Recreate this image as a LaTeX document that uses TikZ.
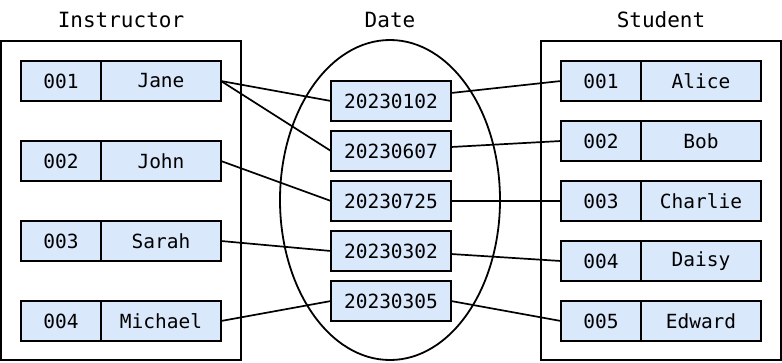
\documentclass[tikz,border=0pt]{standalone}
\usepackage{fontspec}
\setmonofont{DejaVu Sans Mono}
\usetikzlibrary{positioning}
\definecolor{cellblue}{HTML}{DAE8FC}

\begin{document}
\begin{tikzpicture}[x=1pt, y=-1pt,
        cell/.style={draw, fill=cellblue, line width=2pt, minimum height=40pt, inner sep=0pt, outer sep=0pt,
                     font=\ttfamily\fontsize{19.5}{22}\selectfont},
        idcell/.style={cell, minimum width=80pt},
        namecell/.style={cell, minimum width=120pt},
        title/.style={font=\ttfamily\fontsize{21}{24}\selectfont},
        link/.style={line width=1.7pt}]
                \useasboundingbox (0, 0) rectangle (782, 362);

                % titles
                \node[title] (tinstr) at (121, 20) {Instructor};
                \node[title] (tdate) at (390, 20) {Date};
                \node[title] (tstud) at (661, 20) {Student};

                % frames
                \draw[line width=2.2pt] (1, 41) rectangle (241, 360);
                \draw[line width=2.2pt] (541, 41) rectangle (781, 360);
                \draw[line width=1.8pt] (390, 200) ellipse [x radius=110, y radius=160];

                % rows
                \foreach \id/\name [count=\k] in {001/Jane, 002/John, 003/Sarah, 004/Michael} {
                    \node[idcell] (iid\k) at (61, 1+80*\k) {\id};
                    \node[namecell, right=0pt of iid\k] (inm\k) {\name};
                }
                \foreach \id/\name [count=\k] in {001/Alice, 002/Bob, 003/Charlie, 004/Daisy, 005/Edward} {
                    \node[idcell] (sid\k) at (601, 21+60*\k) {\id};
                    \node[namecell, right=0pt of sid\k] (snm\k) {\name};
                }
                \foreach \day [count=\k] in {20230102, 20230607, 20230725, 20230302, 20230305}
                    \node[namecell] (d\k) at (391, 51+50*\k) {\day};

                % links
                \draw[link] (inm1.east) -- (d1.west);
                \draw[link] (inm1.east) -- (d2.west);
                \draw[link] (inm2.east) -- (d3.west);
                \draw[link] (inm3.east) -- (d4.west);
                \draw[link] (inm4.east) -- (d5.west);

                \draw[link] ([yshift=8pt]d1.east) -- (sid1.west);
                \draw[link] ([yshift=4pt]d2.east) -- (sid2.west);
                \draw[link] (d3.east) -- (sid3.west);
                \draw[link] ([yshift=-3pt]d4.east) -- (sid4.west);
                \draw[link] (d5.east) -- (sid5.west);
            \end{tikzpicture}
\end{document}
